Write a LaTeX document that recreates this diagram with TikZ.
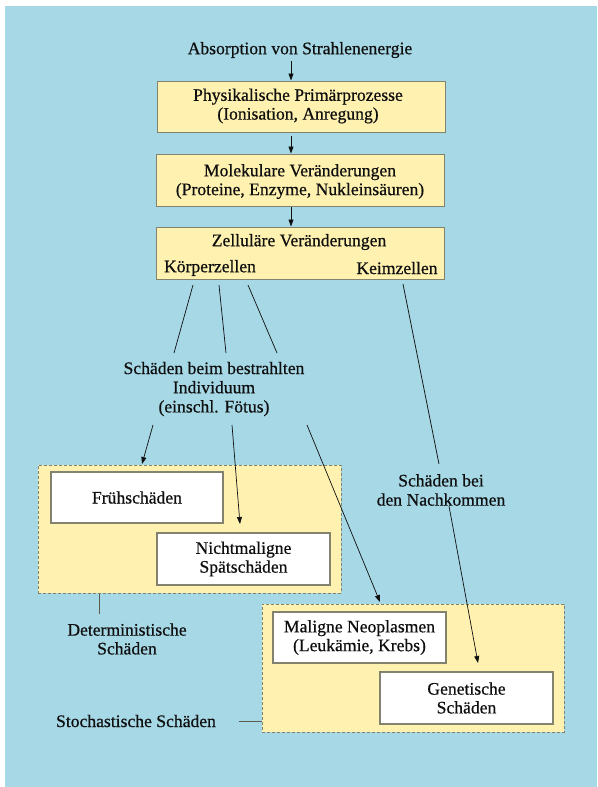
\documentclass[tikz,border=0pt]{standalone}
\usepackage{fontspec}
\setmainfont{Liberation Serif}[UprightFeatures={FakeBold=0.6}]
\usetikzlibrary{arrows.meta}
\definecolor{bgblue}{RGB}{166,216,230}
\definecolor{boxyellow}{RGB}{255,242,176}
\definecolor{boxline}{RGB}{130,130,110}
\definecolor{inkc}{RGB}{15,15,15}
\tikzset{
  tx/.style={font=\fontsize{17.6}{18.8}\selectfont, text=inkc, inner sep=3pt, align=center},
  ybox/.style={draw=boxline, line width=1pt, fill=boxyellow, minimum width=288pt, minimum height=52pt, inner sep=0pt},
  wbox/.style={draw=boxline, line width=1.1pt, fill=white, minimum width=173pt, minimum height=52pt, inner sep=0pt,
               font=\fontsize{17.6}{18.8}\selectfont, text=inkc, align=center},
  dbox/.style={draw=boxline, line width=1pt, dash pattern=on 3pt off 2pt, fill=boxyellow, inner sep=0pt},
  conn/.style={draw=inkc, line width=0.7pt},
  arr/.style={conn, -{Triangle[length=7pt,width=5pt]}},
}
\begin{document}
\begin{tikzpicture}[x=1pt,y=-1pt]
\useasboundingbox (0,0) rectangle (597,787);
\fill[white] (0,0) rectangle (597,787);
\fill[bgblue] (5,6) rectangle (597,787);

% top chain
\node[tx] (abs) at (300,50) {Absorption von Strahlenenergie};
\node[ybox, minimum height=51pt] (b1) at (301,106.5) {};
\node[tx] (t1) at (298,106) {Physikalische Primärprozesse\\(Ionisation, Anregung)};
\node[ybox] (b2) at (300.5,180) {};
\node[tx] (t2) at (300,181.5) {Molekulare Veränderungen\\(Proteine, Enzyme, Nukleinsäuren)};
\node[ybox] (b3) at (300.5,253) {};
\node[tx] (t3) at (299,242) {Zelluläre Veränderungen};
\node[tx] (koerper) at (210,268) {Körperzellen};
\node[tx] (keim) at (397,268) {Keimzellen};

\coordinate (ax) at (291,0);
\draw[arr] (abs.south -| ax) -- (b1.north -| ax);
\draw[arr, shorten <=3pt] (b1.south -| ax) -- (b2.north -| ax);
\draw[arr] (b2.south -| ax) -- (b3.north -| ax);

% middle labels
\node[tx, font=\fontsize{17.6}{19.2}\selectfont] (sind) at (214,389) {Schäden beim bestrahlten\\Individuum\\(einschl. Fötus)};
\node[tx, font=\fontsize{17.6}{19.2}\selectfont] (nach) at (441,490) {Schäden bei\\den Nachkommen};

% dashed group boxes
\node[dbox, minimum width=303pt, minimum height=128pt] (det) at (189.5,529) {};
\node[dbox, minimum width=302pt, minimum height=128pt] (sto) at (413,668) {};

% white boxes
\node[wbox, minimum width=172pt, minimum height=51pt] (frueh) at (137,497.5) {Frühschäden};
\node[wbox] (nicht) at (243.5,559) {Nichtmaligne\\Spätschäden};
\node[wbox, minimum height=51pt] (malig) at (359.5,637.5) {Maligne Neoplasmen\\(Leukämie, Krebs)};
\node[wbox] (genet) at (466.5,698) {Genetische\\Schäden};

% side labels
\node[tx] (detl) at (127,639) {Deterministische\\Schäden};
\node[tx] (stol) at (136,721) {Stochastische Schäden};

% connector end points
\coordinate (k1) at (193,285);
\coordinate (k2) at (219,285);
\coordinate (k3) at (248,285);
\coordinate (s1) at (174,353);
\coordinate (s2) at (226,353);
\coordinate (s3) at (277,353);
\coordinate (km) at (403,284);
\coordinate (n1) at (439,464);
\coordinate (n2) at (449,506);
\coordinate (g1) at (478,663);
\coordinate (u1) at (153,425);
\coordinate (u2) at (232,425);
\coordinate (u3) at (307,425);
\coordinate (e1) at (142,464);
\coordinate (e2) at (240,524);
\coordinate (e3) at (380,602);
\coordinate (dx) at (99,0);
\coordinate (dl) at (99,614);
\coordinate (sl) at (239,721);

\draw[conn] (k1) -- (s1);
\draw[conn] (k2) -- (s2);
\draw[conn] (k3) -- (s3);
\draw[conn] (km) -- (n1);
\draw[arr] (n2) -- (g1);
\draw[arr] (u1) -- (e1);
\draw[arr] (u2) -- (e2);
\draw[arr] (u3) -- (e3);
\draw[conn, draw=boxline!70!black, line width=0.9pt] (det.south -| dx) -- (dl);
\draw[conn, draw=boxline!70!black, line width=0.9pt] (sl) -- (sto.west |- sl);
\end{tikzpicture}
\end{document}
